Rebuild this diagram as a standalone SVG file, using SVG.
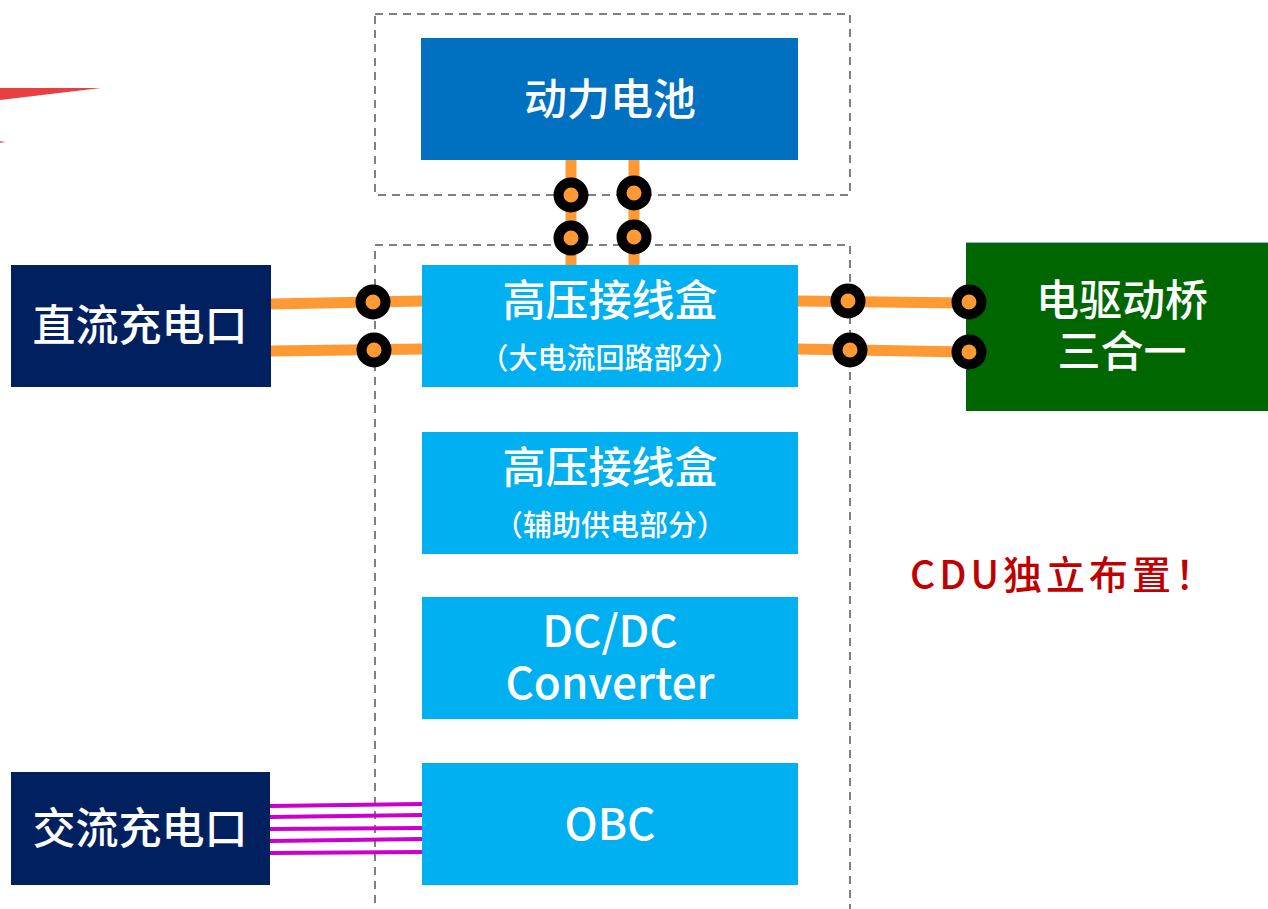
<svg xmlns="http://www.w3.org/2000/svg" width="1268" height="909" viewBox="0 0 1268 909">
  <style>
    .frame { fill: none; stroke: #808080; stroke-width: 2; stroke-dasharray: 8 6; }
    .lbl { font-family: "Noto Sans CJK SC", "Noto Sans", sans-serif; fill: #ffffff; text-anchor: middle; }
    .big { font-size: 43px; font-weight: 500; }
    .sub { font-size: 29px; font-weight: 500; }
    .lat { font-size: 44px; font-weight: 500; }
    .hv { stroke: #FF9933; stroke-width: 11; fill: none; }
    .ac { stroke: #CC00CC; stroke-width: 4; fill: none; }
    .ring { fill: #FF9933; stroke: #000000; stroke-width: 10; }
  </style>

  <rect width="1268" height="909" fill="#ffffff"/>

  <!-- red sliver at the upper-left edge -->
  <polygon points="0,88 101,88 0,100" fill="#E84040"/>
  <polygon points="0,141 6,142 0,143" fill="#E07070"/>

  <!-- dashed enclosures -->
  <g id="enclosures">
    <rect class="frame" x="375" y="14" width="475" height="181"/>
    <rect class="frame" x="375" y="245" width="475" height="680"/>
  </g>

  <!-- connectors -->
  <g id="connectors">
    <line class="hv" x1="571" y1="160" x2="571" y2="265"/>
    <line class="hv" x1="634" y1="160" x2="634" y2="265"/>
    <line class="hv" x1="271" y1="304" x2="422" y2="301"/>
    <line class="hv" x1="271" y1="351" x2="422" y2="349"/>
    <line class="hv" x1="798" y1="301" x2="966" y2="303"/>
    <line class="hv" x1="798" y1="349" x2="966" y2="352"/>
    <line class="ac" x1="270" y1="806" x2="422" y2="804"/>
    <line class="ac" x1="270" y1="817" x2="422" y2="815"/>
    <line class="ac" x1="270" y1="829" x2="422" y2="828"/>
    <line class="ac" x1="270" y1="841" x2="422" y2="839"/>
    <line class="ac" x1="270" y1="853" x2="422" y2="852"/>
  </g>

  <g id="battery">
    <rect x="421" y="38" width="377" height="122" fill="#0070C0"/>
    <text class="lbl big" x="610" y="115">动力电池</text>
  </g>

  <g id="dc-port">
    <rect x="11" y="265" width="260" height="122" fill="#002060"/>
    <text class="lbl big" x="140" y="341">直流充电口</text>
  </g>

  <g id="hv-box-main">
    <rect x="422" y="265" width="376" height="122" fill="#00B0F0"/>
    <text class="lbl big" x="610" y="316">高压接线盒</text>
    <text class="lbl sub" x="610" y="369">（大电流回路部分）</text>
  </g>

  <g id="hv-box-aux">
    <rect x="422" y="432" width="376" height="122" fill="#00B0F0"/>
    <text class="lbl big" x="610" y="483">高压接线盒</text>
    <text class="lbl sub" x="610" y="536">（辅助供电部分）</text>
  </g>

  <g id="dcdc">
    <rect x="422" y="597" width="376" height="122" fill="#00B0F0"/>
    <text class="lbl lat" x="610" y="647">DC/DC</text>
    <text class="lbl lat" x="610" y="699">Converter</text>
  </g>

  <g id="obc">
    <rect x="422" y="763" width="376" height="122" fill="#00B0F0"/>
    <text class="lbl lat" x="610" y="840">OBC</text>
  </g>

  <g id="ac-port">
    <rect x="11" y="772" width="259" height="113" fill="#002060"/>
    <text class="lbl big" x="140" y="844">交流充电口</text>
  </g>

  <g id="e-axle">
    <rect x="966" y="242" width="302" height="169" fill="#006600"/>
    <line x1="966" y1="242.5" x2="1268" y2="242.5" stroke="#8FB4E0" stroke-width="1"/>
    <text class="lbl big" x="1122" y="316">电驱动桥</text>
    <text class="lbl big" x="1122" y="367">三合一</text>
  </g>

  <!-- connector rings -->
  <g id="rings">
    <circle class="ring" cx="571" cy="195" r="12.5"/>
    <circle class="ring" cx="634" cy="193" r="12.5"/>
    <circle class="ring" cx="571" cy="238" r="12.5"/>
    <circle class="ring" cx="634" cy="237" r="12.5"/>
    <circle class="ring" cx="373" cy="302" r="12.5"/>
    <circle class="ring" cx="374" cy="350" r="12.5"/>
    <circle class="ring" cx="848" cy="301" r="12.5"/>
    <circle class="ring" cx="850" cy="350" r="12.5"/>
    <circle class="ring" cx="969" cy="302" r="12.5"/>
    <circle class="ring" cx="969" cy="352" r="12.5"/>
  </g>

  <text x="910" y="589" font-family="Noto Sans CJK SC, Noto Sans, sans-serif" font-size="39" font-weight="500" fill="#C00000" letter-spacing="4">CDU独立布置！</text>
</svg>
